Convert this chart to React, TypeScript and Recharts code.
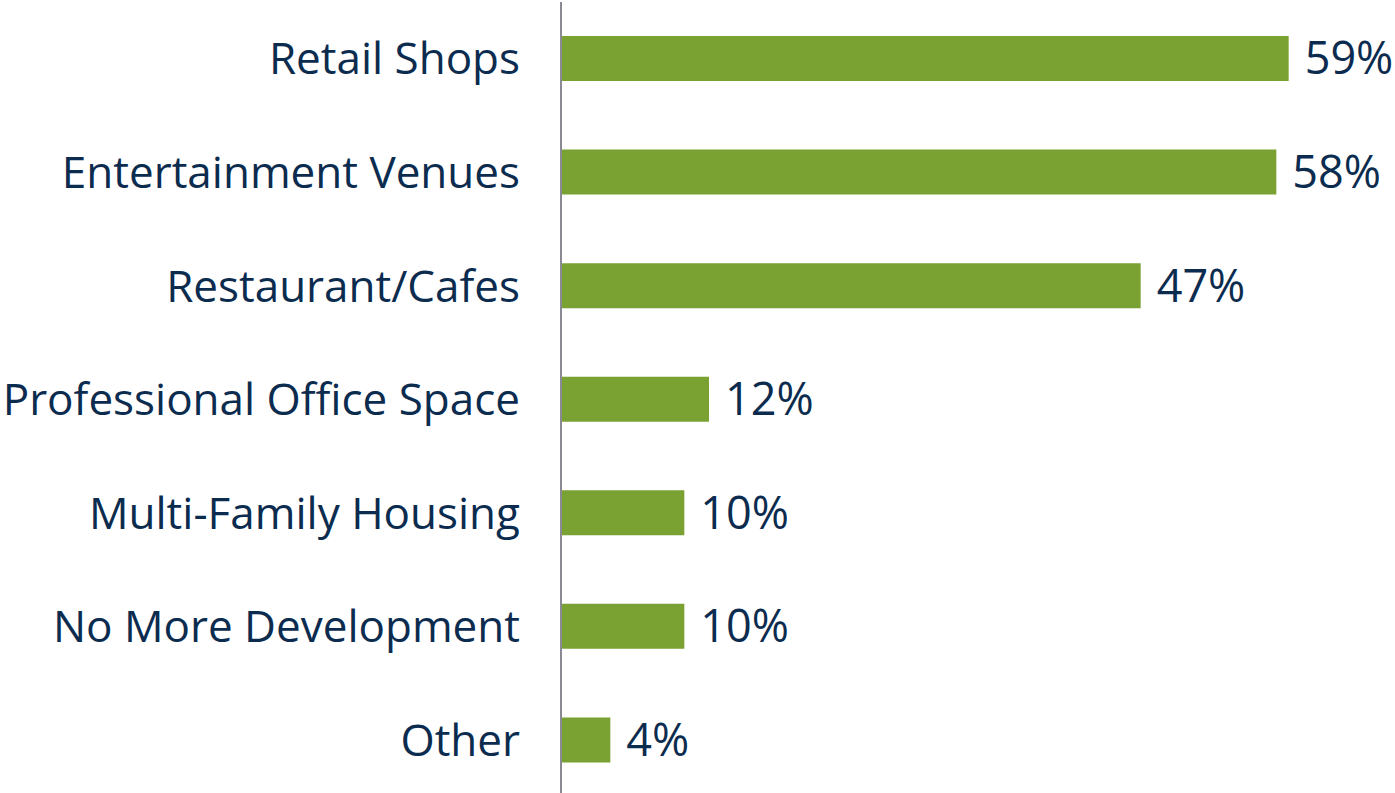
import { Bar, BarChart, LabelList, XAxis, YAxis } from "recharts"

const categories = [
  "Retail Shops",
  "Entertainment Venues",
  "Restaurant/Cafes",
  "Professional Office Space",
  "Multi-Family Housing",
  "No More Development",
  "Other",
]
const shares = [59, 58, 47, 12, 10, 10, 4]

const data = categories.map((name, i) => ({ name, value: shares[i] }))

const navy = "#0c2c4f"

export default function App() {
  return (
    <div style={{ position: "absolute", left: 0, top: 0, width: 1395, height: 793, overflow: "hidden" }}>
      <BarChart
        width={1395}
        height={797}
        data={data}
        layout="vertical"
        margin={{ top: 2, right: 94, bottom: 0, left: 0 }}
      >
        <XAxis type="number" domain={[0, 60]} hide />
        <YAxis
          type="category"
          dataKey="name"
          width={561}
          axisLine={{ stroke: "#8a8a94", strokeWidth: 2 }}
          tickLine={false}
          tickMargin={35}
          tick={{ fill: navy, fontSize: 44, fontFamily: "Open Sans" }}
          interval={0}
        />
        <Bar dataKey="value" fill="#7aa232" barSize={45} isAnimationActive={false}>
          <LabelList
            dataKey="value"
            position="right"
            offset={16}
            formatter={(v: number) => `${v}%`}
            style={{ fill: navy, fontSize: 45, fontFamily: "Open Sans" }}
          />
        </Bar>
      </BarChart>
    </div>
  )
}
